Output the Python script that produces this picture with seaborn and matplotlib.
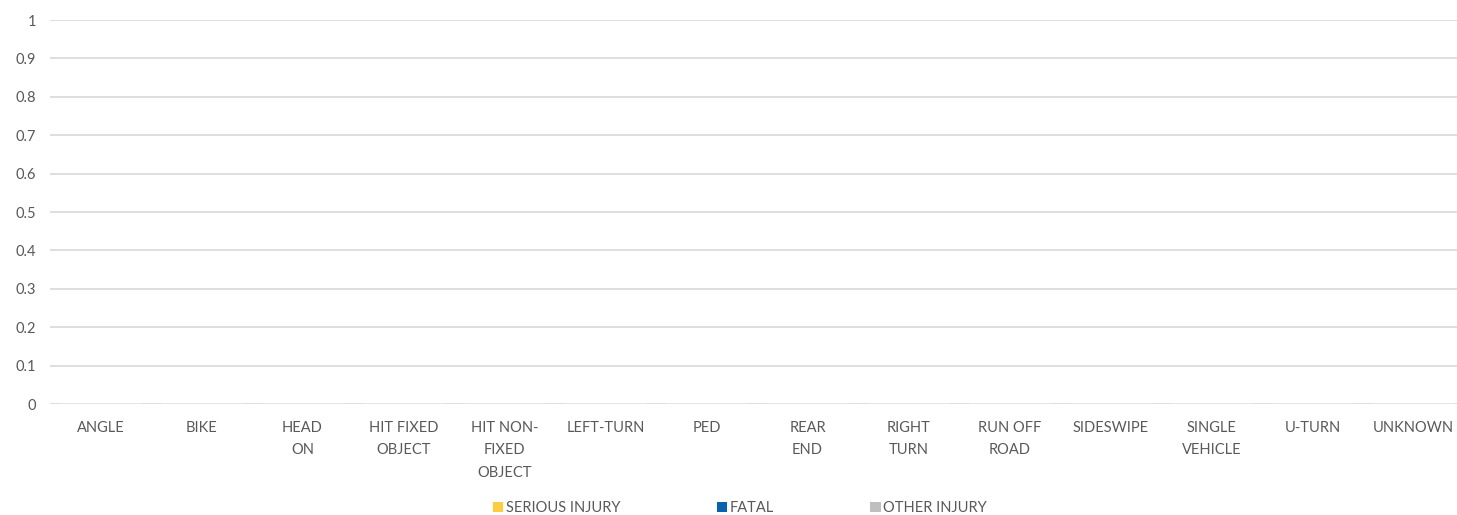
import matplotlib
matplotlib.use("Agg")
from matplotlib import pyplot as plt
from matplotlib.patches import Patch
import pandas as pd
import numpy as np
import seaborn as sns

# crash types on the x axis
categories = ["ANGLE", "BIKE", "HEAD ON", "HIT FIXED OBJECT", "HIT NON-FIXED OBJECT",
              "LEFT-TURN", "PED", "REAR END", "RIGHT TURN", "RUN OFF ROAD",
              "SIDESWIPE", "SINGLE VEHICLE", "U-TURN", "UNKNOWN"]
tick_labels = ["ANGLE", "BIKE", "HEAD\nON", "HIT FIXED\nOBJECT", "HIT NON-\nFIXED\nOBJECT",
               "LEFT-TURN", "PED", "REAR\nEND", "RIGHT\nTURN", "RUN OFF\nROAD",
               "SIDESWIPE", "SINGLE\nVEHICLE", "U-TURN", "UNKNOWN"]
serious_injury = [0, 0, 0, 0, 0, 0, 0, 0, 0, 0, 0, 0, 0, 0]
fatal = [0, 0, 0, 0, 0, 0, 0, 0, 0, 0, 0, 0, 0, 0]
other_injury = [0, 0, 0, 0, 0, 0, 0, 0, 0, 0, 0, 0, 0, 0]
series = ["SERIOUS INJURY", "FATAL", "OTHER INJURY"]
colors = ["#FFCD3C", "#0563B0", "#BFBFBF"]

df = pd.DataFrame({
    "type": categories * 3,
    "series": [series[0]] * 14 + [series[1]] * 14 + [series[2]] * 14,
    "count": serious_injury + fatal + other_injury,
})

sns.set_style("white")
plt.rcParams["font.family"] = ["Lato", "DejaVu Sans"]
txt = "#595959"

fig = plt.figure(figsize=(14.57, 5.15), dpi=100)
ax = fig.add_axes([50 / 1457, 1 - 404 / 515, 1414 / 1457, 384 / 515])

sns.barplot(data=df, x="type", y="count", hue="series", palette=colors,
            order=categories, hue_order=series, ax=ax, legend=False)

ax.set_ylim(0, 1)
ax.set_yticks(np.arange(0, 1.01, 0.1))
ax.set_yticklabels(["0"] + [f"{v:.1f}" for v in np.arange(0.1, 0.95, 0.1)] + ["1"])
ax.set_xticks(range(len(categories)))
ax.set_xticklabels(tick_labels, linespacing=1.8)
ax.set_xlim(-0.5, len(categories) - 0.5)
ax.set_xlabel("")
ax.set_ylabel("")
ax.grid(axis="y", color="#D9D9D9", linewidth=1.2)
ax.set_axisbelow(True)
for s in ax.spines.values():
    s.set_visible(False)
ax.tick_params(axis="x", length=0, pad=12, labelsize=10.5, labelcolor=txt)
ax.tick_params(axis="y", length=0, pad=10, labelsize=10.5, labelcolor=txt)
for lab in ax.get_xticklabels():
    lab.set_verticalalignment("top")

handles = [Patch(facecolor=c, edgecolor="none") for c in colors]
fig.legend(handles, series, loc="center", bbox_to_anchor=(740 / 1457, 1 - 508 / 515),
           ncol=3, frameon=False, fontsize=10.5, labelcolor=txt,
           handlelength=0.7, handleheight=0.7, handletextpad=0.2, columnspacing=6.6)

fig.savefig("out.png", dpi=100)
